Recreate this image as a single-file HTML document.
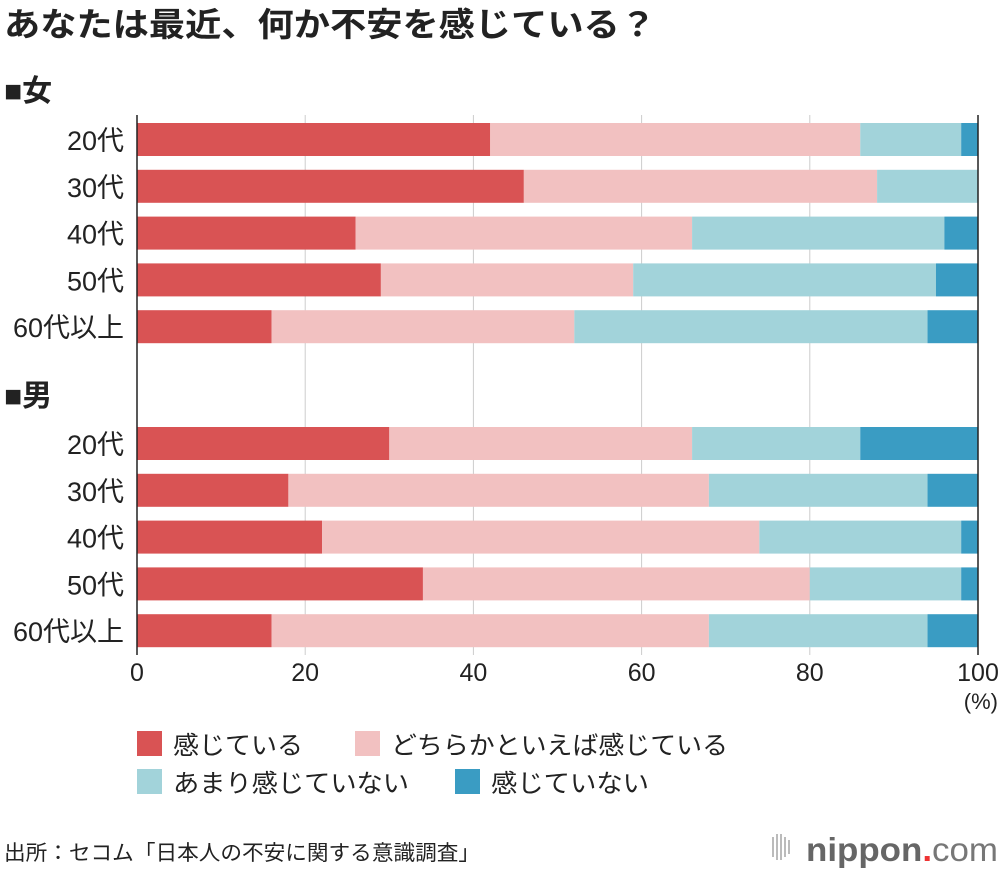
<!DOCTYPE html>
<html><head><meta charset="utf-8">
<style>
body{margin:0;background:#fff;width:1000px;height:870px;overflow:hidden;font-family:"Liberation Sans","Noto Sans CJK JP",sans-serif;}
svg text{font-family:"Liberation Sans","Noto Sans CJK JP",sans-serif;}
</style></head>
<body>
<svg id="c" width="1000" height="870" xmlns="http://www.w3.org/2000/svg">
<text x="4" y="36" font-size="33" font-weight="bold" fill="#222" textLength="652" lengthAdjust="spacingAndGlyphs">あなたは最近、何か不安を感じている？</text>
<text x="4" y="101" font-size="30" font-weight="bold" fill="#222">■女</text>
<text x="4" y="406" font-size="30" font-weight="bold" fill="#222">■男</text>
<g id="grid"></g><g id="bars"></g><g id="axis"></g>
<g>
<rect x="137" y="731" width="25" height="25" fill="#d95354"/>
<text x="173" y="754" font-size="25" fill="#222" textLength="130" lengthAdjust="spacingAndGlyphs">感じている</text>
<rect x="355" y="731" width="25" height="25" fill="#f2c1c1"/>
<text x="391" y="754" font-size="25" fill="#222" textLength="337" lengthAdjust="spacingAndGlyphs">どちらかといえば感じている</text>
<rect x="137" y="769" width="25" height="25" fill="#a2d3da"/>
<text x="173" y="792" font-size="25" fill="#222" textLength="236" lengthAdjust="spacingAndGlyphs">あまり感じていない</text>
<rect x="455" y="769" width="25" height="25" fill="#3a9cc3"/>
<text x="491" y="792" font-size="25" fill="#222" textLength="158" lengthAdjust="spacingAndGlyphs">感じていない</text>
</g>
<text x="4" y="860" font-size="21" fill="#222" textLength="476" lengthAdjust="spacingAndGlyphs">出所：セコム「日本人の不安に関する意識調査」</text>
<g>
<g fill="#bbb"><rect x="772" y="837" width="2" height="20"/><rect x="776" y="834" width="2" height="26"/><rect x="780" y="834" width="2" height="26"/><rect x="784" y="837" width="2" height="20"/><rect x="788" y="840" width="2" height="14"/></g>
<text x="806" y="861" font-size="33" font-weight="bold" fill="#666" textLength="192" lengthAdjust="spacingAndGlyphs">nippon<tspan fill="#e33">.</tspan><tspan font-weight="normal" fill="#777">com</tspan></text>
</g>
</svg>
<script>
const categories=["20代","30代","40代","50代","60代以上"];
const femaleFeel=[42,46,26,29,16];
const femaleSomewhat=[44,42,40,30,36];
const femaleNotMuch=[12,12,30,36,42];
const femaleNot=[2,0,4,5,6];
const maleFeel=[30,18,22,34,16];
const maleSomewhat=[36,50,52,46,52];
const maleNotMuch=[20,26,24,18,26];
const maleNot=[14,6,2,2,6];
const xTicks=[0,20,40,60,80,100];

const NS="http://www.w3.org/2000/svg";
const x0=137,x1=978;
const xs=v=>x0+(x1-x0)*v/100;
const colors=["#d95354","#f2c1c1","#a2d3da","#3a9cc3"];
const segNames=["feel","somewhat","not-much","not"];
function mk(t,a,p){const e=document.createElementNS(NS,t);for(const k in a)e.setAttribute(k,a[k]);p.appendChild(e);return e;}
const grid=document.getElementById('grid'),bars=document.getElementById('bars'),axis=document.getElementById('axis');
xTicks.forEach(t=>{
  if(t>0&&t<100){const l=mk('line',{x1:xs(t),x2:xs(t),y1:115,y2:655,stroke:'#ccc','stroke-width':1},grid);
  
  }
  const tx=mk('text',{x:xs(t),y:681,'font-size':25,'text-anchor':'middle',fill:'#222'},axis);
  tx.textContent=t;
  
  
});
const pc=mk('text',{x:998,y:709,'font-size':22,'text-anchor':'end',fill:'#222'},axis);pc.textContent='(%)';


function group(series,yStart,label){
  categories.forEach((c,i)=>{
    const y=yStart+i*46.8,h=33;
    let acc=0;
    series.forEach((s,j)=>{
      const v=s[i];
      const r=mk('rect',{x:xs(acc),y:y,width:xs(acc+v)-xs(acc),height:h,fill:colors[j]},bars);
      
      
      acc+=v;
    });
    const t=mk('text',{x:124,y:y+27,'font-size':27,'text-anchor':'end',fill:'#222'},axis);
    t.textContent=c;
    
    
  });
}
group([femaleFeel,femaleSomewhat,femaleNotMuch,femaleNot],123,'female');
group([maleFeel,maleSomewhat,maleNotMuch,maleNot],427,'male');
[x0,x1].forEach((xx,k)=>{const l=mk('line',{x1:xx,x2:xx,y1:115,y2:655,stroke:'#222','stroke-width':1.5},axis);

});
</script>
</body></html>
